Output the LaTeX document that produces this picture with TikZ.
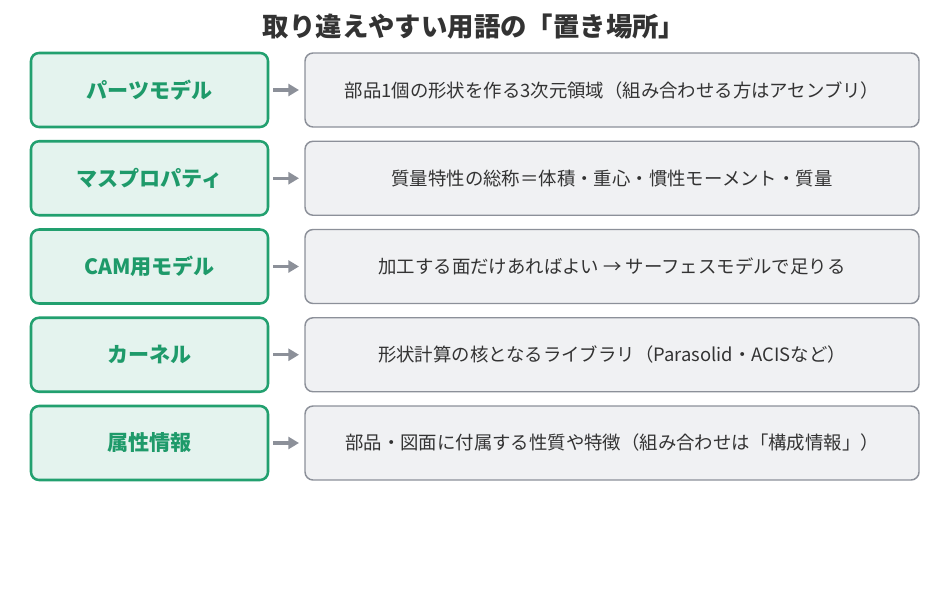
\documentclass[tikz,border=0pt]{standalone}
\usepackage{fontspec}
\setmainfont{Noto Sans CJK JP}
\usetikzlibrary{arrows.meta}
\definecolor{gborder}{HTML}{22A06F}
\definecolor{gfill}{HTML}{E4F3EE}
\definecolor{gtext}{HTML}{1E9A6A}
\definecolor{rborder}{HTML}{8C9099}
\definecolor{rfill}{HTML}{F0F1F3}
\definecolor{ttext}{HTML}{333333}
\definecolor{arr}{HTML}{8C9099}
\tikzset{
  termbox/.style={draw=gborder, fill=gfill, line width=1.9pt, rounded corners=6pt,
    minimum width=177.75pt, minimum height=55.5pt, inner sep=0pt,
    text=gtext, font=\bfseries\fontsize{15.8}{18}\selectfont},
  descbox/.style={draw=rborder, fill=rfill, line width=1.1pt, rounded corners=6pt,
    minimum width=460.5pt, minimum height=55.5pt, inner sep=0pt,
    text=ttext, font=\fontsize{13.8}{16}\selectfont},
  link/.style={draw=arr, line width=2.4pt, -{Triangle[length=8pt,width=9pt]}}
}
\begin{document}
\begin{tikzpicture}[x=0.75pt,y=-0.75pt]
\useasboundingbox (0,0) rectangle (950,589);
\node[font=\bfseries\fontsize{19.8}{22}\selectfont, text=ttext] (title) at (474,27) {取り違えやすい用語の「置き場所」};
\foreach \i/\t/\d in {
 0/パーツモデル/部品1個の形状を作る3次元領域（組み合わせる方はアセンブリ）,
 1/マスプロパティ/質量特性の総称＝体積・重心・慣性モーメント・質量,
 2/CAM用モデル/加工する面だけあればよい → サーフェスモデルで足りる,
 3/カーネル/形状計算の核となるライブラリ（Parasolid・ACISなど）,
 4/属性情報/部品・図面に付属する性質や特徴（組み合わせは「構成情報」）}{
  \node[termbox] (t\i) at (149.5, 90+88.25*\i) {\t};
  \node[descbox] (d\i) at (612, 90+88.25*\i) {\d};
  \coordinate (a\i) at (273, 90+88.25*\i);
  \coordinate (b\i) at (299, 90+88.25*\i);
  \draw[link] (a\i) -- (b\i);
}
\end{tikzpicture}
\end{document}
